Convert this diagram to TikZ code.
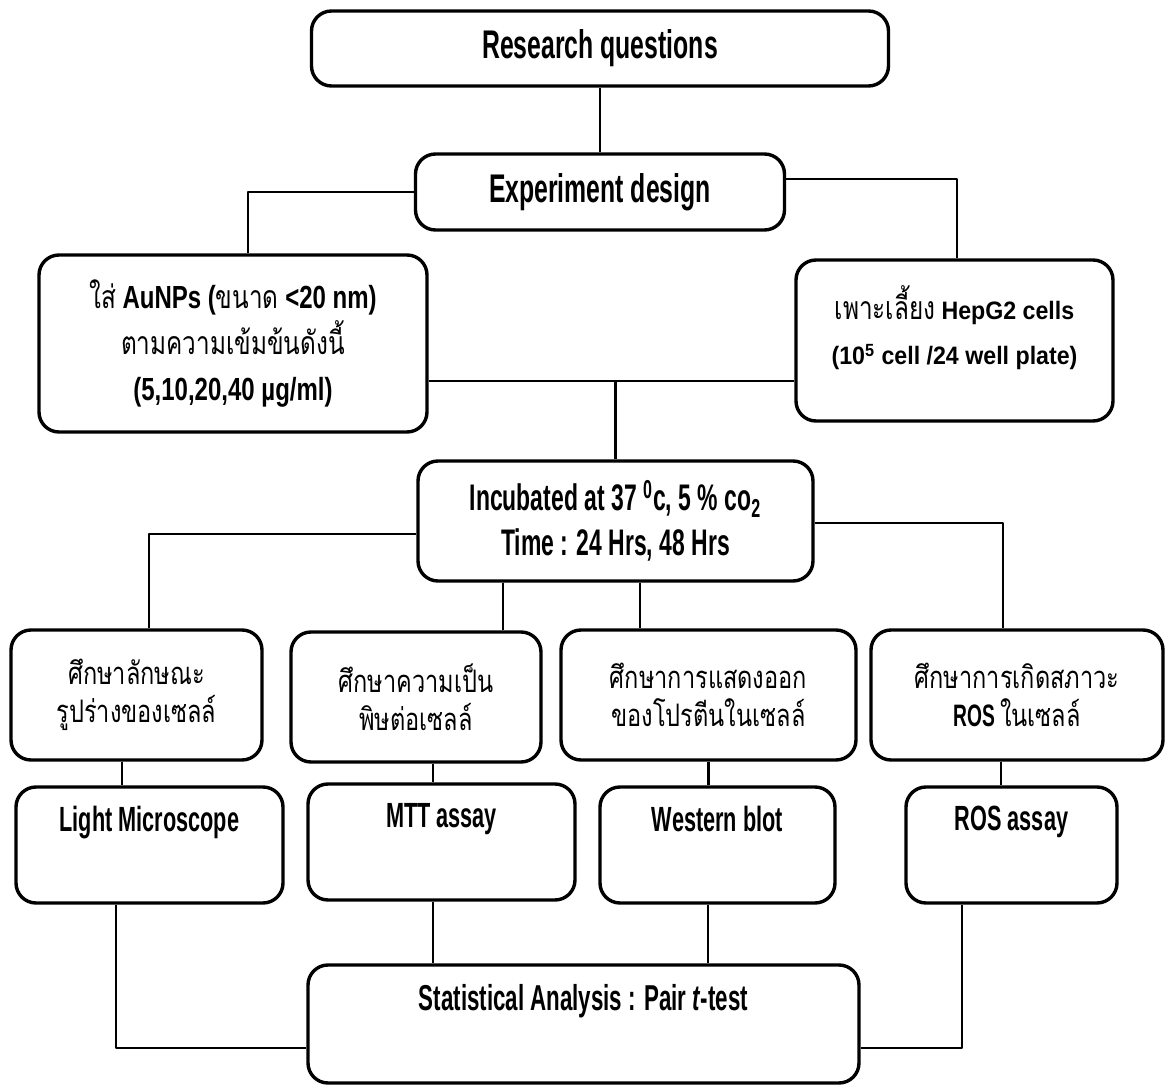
\documentclass[tikz,border=0pt]{standalone}
\usepackage{fontspec}
\setmainfont[FakeStretch=0.62]{Liberation Sans}
\newfontfamily\midfont[FakeStretch=0.75]{Liberation Sans}
\newfontfamily\widefont[FakeStretch=0.92]{Liberation Sans}
\newfontfamily\thaifont[Script=Thai,FakeStretch=0.76]{Loma}
\newcommand{\thtxt}[1]{{\thaifont\mdseries #1}}
\newcommand{\thsmall}[1]{{\thaifont\mdseries\fontsize{16}{23}\selectfont #1}}

\begin{document}
\begin{tikzpicture}[x=0.5pt, y=-0.5pt, line join=round,
    box/.style={draw, line width=1.7pt, rounded corners=10pt, align=center, inner sep=2pt},
    conn/.style={line width=1.4pt, line cap=butt},
    big/.style={font=\bfseries\fontsize{20}{24}\selectfont},
    mid/.style={font=\bfseries\fontsize{18.5}{22.5}\selectfont},
    study/.style={font=\bfseries\fontsize{15.5}{19}\selectfont},
    lbl/.style={anchor=north, yshift=-7pt, font=\bfseries\fontsize{17.5}{22}\selectfont}]
    \useasboundingbox (0,0) rectangle (1169,1085);
    % top of the flow
    \node[box, big, minimum width=288.5pt, minimum height=37.5pt] (rq) at (600,48.5) {Research questions};
    \node[box, big, minimum width=184.5pt, minimum height=38pt] (ed) at (600,192) {Experiment design};
    \node[box, font=\midfont\bfseries\fontsize{16}{23}\selectfont, minimum width=194pt, minimum height=88.5pt] (au) at (233,343.5)
        {\thsmall{ใส่} AuNPs (\thsmall{ขนาด} <20 nm)\\ \thsmall{ตามความเข้มข้นดังนี้}\\ (5,10,20,40 µg/ml)};
    \node[box, font=\widefont\bfseries\fontsize{12.6}{22.5}\selectfont, text depth=15pt, minimum width=158.5pt, minimum height=80.5pt] (hep) at (954.5,340.5)
        {\thsmall{เพาะเลี้ยง} HepG2 cells\\ (10\textsuperscript{5} cell /24 well plate)};
    \node[box, mid, minimum width=197.5pt, minimum height=60pt] (inc) at (615.5,521)
        {Incubated at 37 \textsuperscript{0}c, 5 \% co\textsubscript{2}\\ Time : 24 Hrs, 48 Hrs};
    % studies
    \node[box, study, minimum width=125.5pt, minimum height=65pt] (s1) at (136.5,695) {\thtxt{ศึกษาลักษณะ}\\ \thtxt{รูปร่างของเซลล์}};
    \node[box, study, minimum width=125pt, minimum height=65pt] (s2) at (416,697) {\thtxt{ศึกษาความเป็น}\\ \thtxt{พิษต่อเซลล์}};
    \node[box, study, minimum width=147.5pt, minimum height=65pt] (s3) at (708.5,695) {\thtxt{ศึกษาการแสดงออก}\\ \thtxt{ของโปรตีนในเซลล์}};
    \node[box, study, minimum width=146pt, minimum height=65pt] (s4) at (1017,695) {\thtxt{ศึกษาการเกิดสภาวะ}\\ ROS \thtxt{ในเซลล์}};
    % methods
    \node[box, minimum width=133.5pt, minimum height=58pt, label={[lbl]north:Light Microscope}] (m1) at (149.5,845) {};
    \node[box, minimum width=133.5pt, minimum height=58pt, label={[lbl]north:MTT assay}] (m2) at (441.5,842) {};
    \node[box, minimum width=117.5pt, minimum height=58pt, label={[lbl]north:Western blot}] (m3) at (717.5,845) {};
    \node[box, minimum width=105.5pt, minimum height=58pt, label={[lbl]north:ROS assay}] (m4) at (1011.5,845) {};
    \node[box, minimum width=275.5pt, minimum height=59pt, label={[lbl, font=\bfseries\fontsize{18}{22}\selectfont]north:Statistical Analysis : Pair \textit{t}-test}] (stat) at (583.5,1024) {};
    % connectors
    \coordinate (j1) at (615.5,381);
    \draw[conn] (rq) -- (ed);
    \draw[conn] ([xshift=7.5pt]au.north) |- (ed.west);
    \draw[conn] ([yshift=6.5pt]ed.east) -| ([xshift=1.25pt]hep.north);
    \draw[conn] (au.east |- j1) -- (hep.west |- j1);
    \draw[conn] (j1) -- (j1 |- inc.north);
    \draw[conn] ([yshift=-6.5pt]inc.west) -| ([xshift=6.25pt]s1.north);
    \draw[conn] ([yshift=-1pt]inc.east) -| ([xshift=-7pt]s4.north);
    \foreach \s/\dx in {s2/-56.25pt, s3/12.25pt}
        \draw[conn] ([xshift=\dx]inc.south) coordinate (c) -- (c |- \s.north);
    \foreach \s/\m/\dx in {s1/m1/-7.25pt, s2/m2/8.5pt, s3/m3/0pt, s4/m4/-8pt}
        \draw[conn] ([xshift=\dx]\s.south) coordinate (c) -- (c |- \m.north);
    \foreach \m/\dx in {m2/-4.25pt, m3/-4.75pt}
        \draw[conn] ([xshift=\dx]\m.south) coordinate (c) -- (c |- stat.north);
    \draw[conn] ([xshift=-16.75pt]m1.south) |- ([yshift=-12pt]stat.west);
    \draw[conn] ([xshift=-24.75pt]m4.south) |- ([yshift=-12pt]stat.east);
\end{tikzpicture}
\end{document}
